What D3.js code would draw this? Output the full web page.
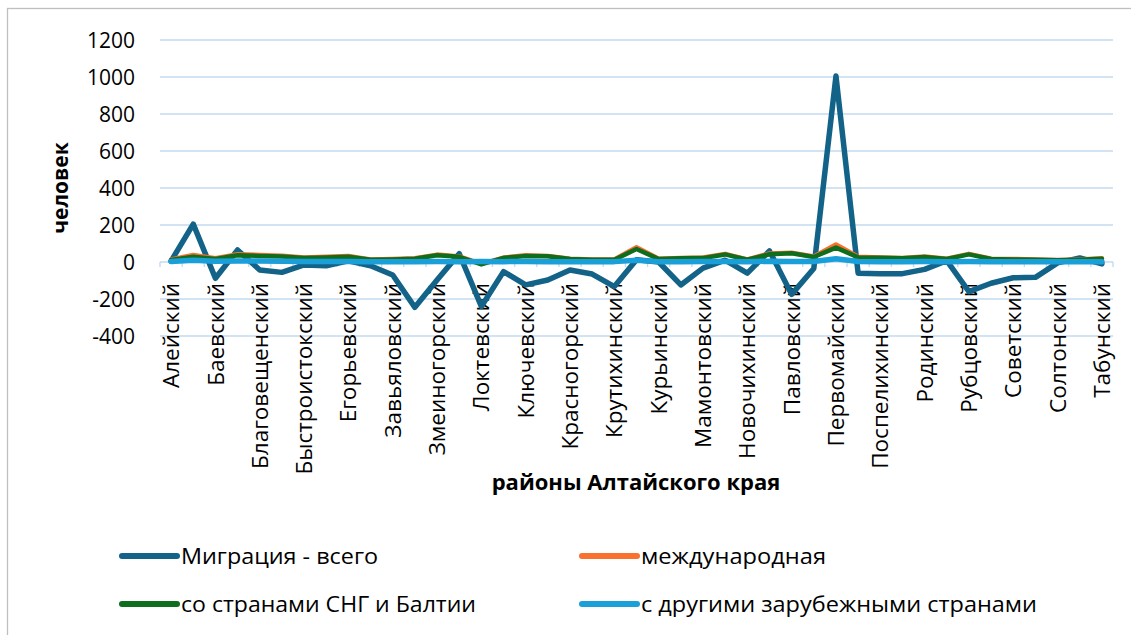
<!DOCTYPE html>
<html>
<head>
<meta charset="utf-8">
<script src="https://cdnjs.cloudflare.com/ajax/libs/d3/7.8.5/d3.min.js"></script>
<style>
  body { margin: 0; background: #fff; font-family: "Open Sans", sans-serif; }
</style>
</head>
<body>
<div id="chart"></div>
<script>
// районы (подписан каждый второй)
var districts = ["Алейский", "Алтайский", "Баевский", "Бийский", "Благовещенский", "Бурлинский",
  "Быстроистокский", "Волчихинский", "Егорьевский", "Ельцовский", "Завьяловский", "Заринский",
  "Змеиногорский", "Зональный", "Локтевский", "Каменский", "Ключевский", "Косихинский",
  "Красногорский", "Краснощековский", "Крутихинский", "Кулундинский", "Курьинский", "Кытмановский",
  "Мамонтовский", "Михайловский", "Новочихинский", "Немецкий национальный", "Павловский", "Панкрушихинский",
  "Первомайский", "Петропавловский", "Поспелихинский", "Ребрихинский", "Родинский", "Романовский",
  "Рубцовский", "Смоленский", "Советский", "Солонешенский", "Солтонский", "Суетский", "Табунский"];

var total = [5, 205, -88, 65, -43, -56, -16, -20, 7, -20, -70, -245, -97, 45, -240, -52, -124, -97,
  -43, -65, -133, 12, 0, -124, -33, 10, -60, 60, -175, -35, 1005, -61, -63, -63, -40, 7, -160, -115,
  -85, -83, -5, 22, -10];
var intl = [14, 38, 20, 42, 38, 34, 24, 28, 32, 14, 16, 20, 40, 30, -10, 24, 36, 33, 18, 14, 14, 80,
  18, 22, 24, 44, 14, 46, 50, 30, 95, 28, 25, 22, 30, 18, 44, 18, 16, 14, 11, 14, 20];
var cis = [11, 28, 16, 36, 33, 30, 21, 25, 29, 12, 14, 18, 37, 28, -13, 22, 33, 31, 16, 12, 12, 70,
  16, 20, 21, 41, 12, 42, 47, 27, 78, 25, 23, 20, 27, 16, 41, 16, 14, 12, 9, 12, 18];
var other = [3, 10, 4, 6, 5, 4, 3, 3, 3, 2, 2, 2, 3, 2, 3, 2, 3, 2, 2, 2, 2, 10, 2, 2, 3, 3, 2, 4,
  3, 3, 17, 3, 2, 2, 3, 2, 3, 2, 2, 2, 2, 2, 2];

var yTicks = [-400, -200, 0, 200, 400, 600, 800, 1000, 1200];

var series = [
  {name: "Миграция - всего", values: total, color: "#136388", width: 5.5},
  {name: "международная", values: intl, color: "#f9702f", width: 4.5},
  {name: "со странами СНГ и Балтии", values: cis, color: "#0f6d1e", width: 4.5},
  {name: "с другими зарубежными странами", values: other, color: "#1a9fd9", width: 5.5}
];

var W = 1131, H = 635;
var plot = {left: 160, right: 1113, top: 40, bottom: 336};

var svg = d3.select("#chart").append("svg")
  .attr("width", W)
  .attr("height", H);

// chart border
svg.append("rect")
  .attr("x", 7.5).attr("y", 8.5)
  .attr("width", W + 20).attr("height", H + 20)
  .attr("fill", "none")
  .attr("stroke", "#bfbfbf")
  .attr("stroke-width", 1.3);

var x = d3.scaleBand()
  .domain(districts)
  .range([plot.left, plot.right])
  .padding(0);

var y = d3.scaleLinear()
  .domain([-400, 1200])
  .range([plot.bottom, plot.top]);

var cx = function(d) { return x(d) + x.bandwidth() / 2; };

// gridlines
svg.append("g")
  .selectAll("line")
  .data(yTicks)
  .enter().append("line")
  .attr("x1", plot.left).attr("x2", plot.right)
  .attr("y1", function(d) { return y(d); })
  .attr("y2", function(d) { return y(d); })
  .attr("stroke", "#c3dbf0")
  .attr("stroke-width", 1.4);

// category tick marks on zero line
svg.append("g")
  .selectAll("line")
  .data(districts.concat(["__end"]))
  .enter().append("line")
  .attr("x1", function(d, i) { return i < districts.length ? x(d) : plot.right; })
  .attr("x2", function(d, i) { return i < districts.length ? x(d) : plot.right; })
  .attr("y1", y(0))
  .attr("y2", y(0) + 5)
  .attr("stroke", "#c3dbf0")
  .attr("stroke-width", 1.4);

// y tick labels
svg.append("g")
  .selectAll("text")
  .data(yTicks)
  .enter().append("text")
  .attr("x", 135)
  .attr("y", function(d) { return y(d); })
  .attr("dy", "0.36em")
  .attr("text-anchor", "end")
  .style("font-size", "21px")
  .style("fill", "#000")
  .text(function(d) { return d; });

// x tick labels (every second)
svg.append("g")
  .selectAll("text")
  .data(districts.filter(function(d, i) { return i % 2 === 0; }))
  .enter().append("text")
  .attr("transform", function(d) { return "translate(" + cx(d) + "," + (y(0) + 21) + ") rotate(-90)"; })
  .attr("dy", "0.36em")
  .attr("text-anchor", "end")
  .style("font-size", "22.5px")
  .style("fill", "#000")
  .text(function(d) { return d; });

// lines
var line = d3.line()
  .x(function(d, i) { return cx(districts[i]); })
  .y(function(d) { return y(d); });

svg.append("g")
  .selectAll("path")
  .data(series)
  .enter().append("path")
  .attr("d", function(s) { return line(s.values); })
  .attr("fill", "none")
  .attr("stroke", function(s) { return s.color; })
  .attr("stroke-width", function(s) { return s.width; })
  .attr("stroke-linejoin", "round")
  .attr("stroke-linecap", "round");

// axis titles
svg.append("text")
  .attr("transform", "translate(61,188) rotate(-90)")
  .attr("dy", "0.35em")
  .attr("text-anchor", "middle")
  .style("font-size", "21px")
  .style("font-weight", "bold")
  .text("человек");

svg.append("text")
  .attr("x", 636)
  .attr("y", 490)
  .attr("text-anchor", "middle")
  .style("font-size", "22px")
  .style("font-weight", "bold")
  .text("районы Алтайского края");

// legend
var legendPos = [
  {x: 122, y: 556, w: 197},
  {x: 582, y: 556, w: 185},
  {x: 122, y: 604, w: 295},
  {x: 582, y: 604, w: 396}
];
var legend = svg.append("g")
  .selectAll("g")
  .data(series)
  .enter().append("g")
  .attr("transform", function(s, i) { return "translate(" + legendPos[i].x + "," + legendPos[i].y + ")"; });

legend.append("line")
  .attr("x1", 0).attr("x2", 55)
  .attr("stroke", function(s) { return s.color; })
  .attr("stroke-width", 6)
  .attr("stroke-linecap", "round");

legend.append("text")
  .attr("x", 59)
  .attr("dy", "0.36em")
  .attr("textLength", function(s, i) { return legendPos[i].w; })
  .attr("lengthAdjust", "spacingAndGlyphs")
  .style("font-size", "22px")
  .text(function(s) { return s.name; });
</script>
</body>
</html>
